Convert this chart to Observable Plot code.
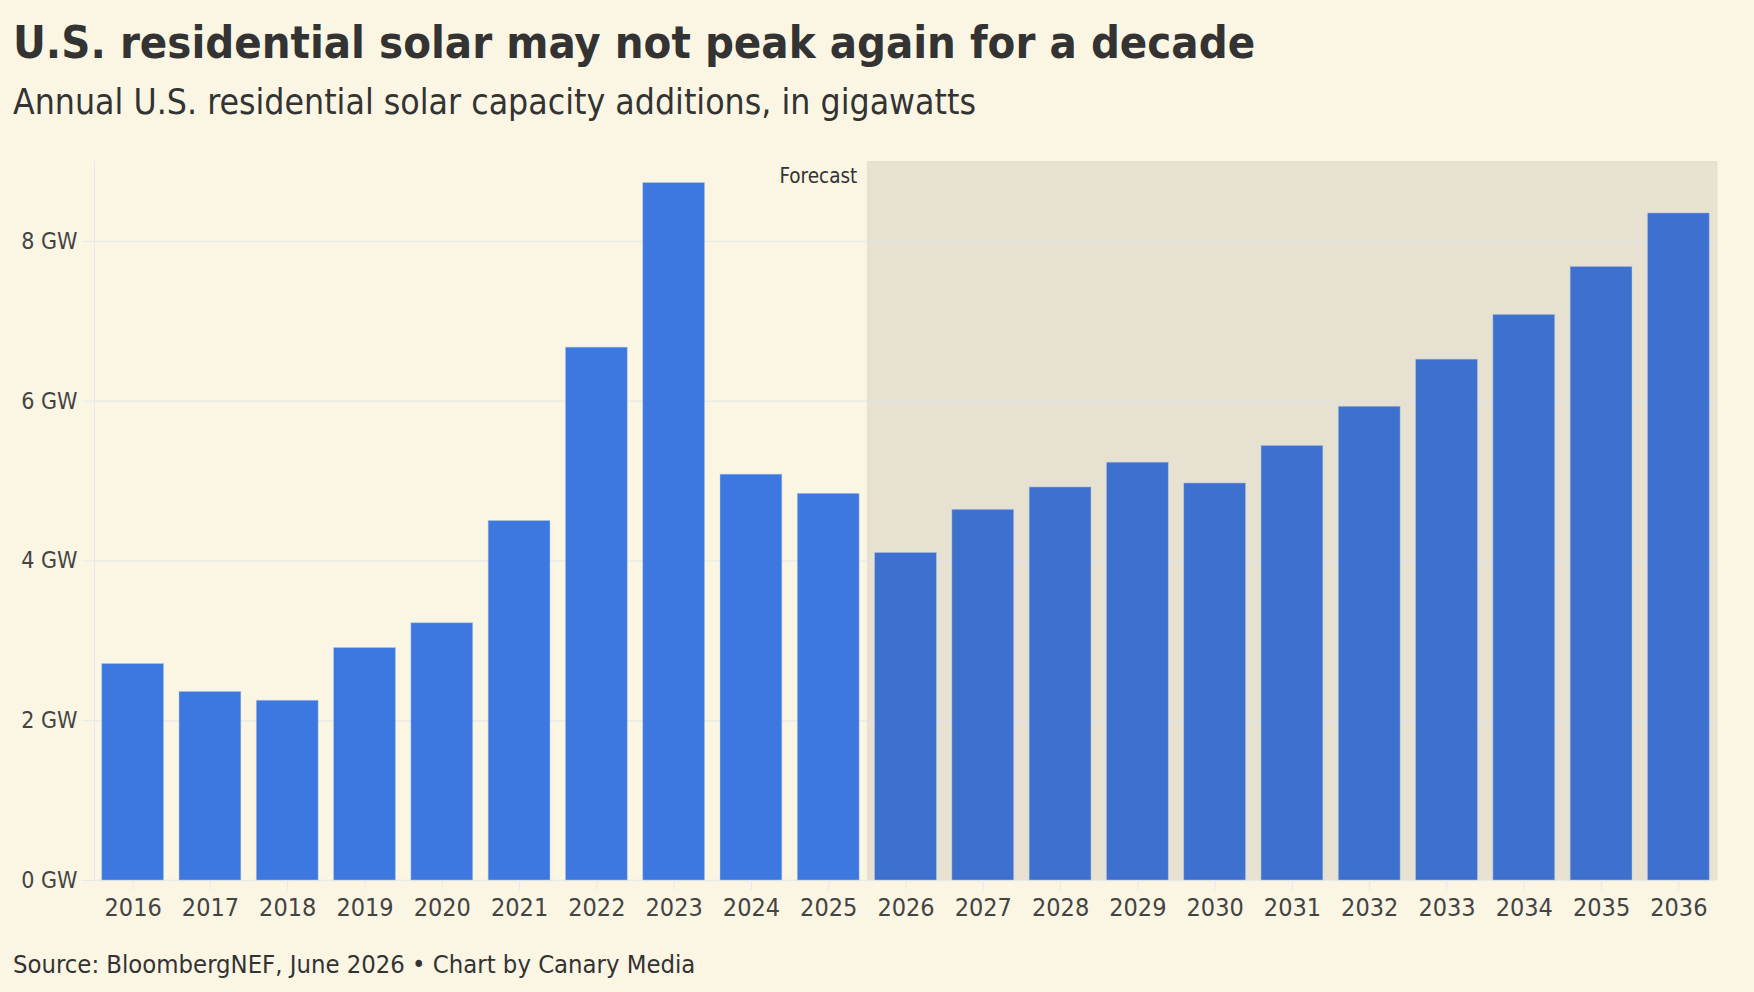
<!DOCTYPE html>
<html>
<head>
<meta charset="utf-8">
<script src="https://cdn.jsdelivr.net/npm/d3@7"></script>
<script src="https://cdn.jsdelivr.net/npm/@observablehq/plot@0.6"></script>
<style>
  html, body { margin: 0; padding: 0; background: #fbf6e3; }
  body { width: 1754px; height: 992px; position: relative; overflow: hidden;
         font-family: "DejaVu Sans Condensed", "DejaVu Sans", sans-serif; font-stretch: semi-condensed; color: #333; }
  #title { position: absolute; left: 13px; top: 11px; font-size: 45px; font-weight: 700; white-space: nowrap; line-height: 64px; }
  #subtitle { position: absolute; left: 13px; top: 79px; font-size: 35.3px; font-weight: 400; white-space: nowrap; line-height: 46px; }
  #chart { position: absolute; left: 0; top: 140px; }
  #footer { position: absolute; left: 13px; top: 948px; font-size: 25.4px; white-space: nowrap; line-height: 32px; }
</style>
</head>
<body>
<div id="title">U.S. residential solar may not peak again for a decade</div>
<div id="subtitle">Annual U.S. residential solar capacity additions, in gigawatts</div>
<div id="chart"></div>
<div id="footer">Source: BloombergNEF, June 2026 • Chart by Canary Media</div>
<script>
const years = ["2016","2017","2018","2019","2020","2021","2022","2023","2024","2025","2026","2027","2028","2029","2030","2031","2032","2033","2034","2035","2036"];
const capacityGW = [2.71, 2.36, 2.25, 2.91, 3.22, 4.50, 6.67, 8.73, 5.08, 4.84, 4.10, 4.64, 4.92, 5.23, 4.97, 5.44, 5.93, 6.52, 7.08, 7.68, 8.35];
const forecastYears = ["2026","2027","2028","2029","2030","2031","2032","2033","2034","2035","2036"];
const yTicks = [0, 2, 4, 6, 8];
const forecastLabel = ["Forecast"];

const data = years.map((y, i) => ({year: y, value: capacityGW[i], forecast: forecastYears.includes(y)}));

const W = 1754, H = 790, mL = 94, mR = 37, mT = 21, mB = 50;
const step = (W - mL - mR) / (years.length);
const halfGap = step * 0.1;

const chart = Plot.plot({
  width: W, height: H,
  marginLeft: mL, marginRight: mR, marginTop: mT, marginBottom: mB,
  style: {background: "transparent", fontFamily: '"DejaVu Sans Condensed", "DejaVu Sans", sans-serif', fontStretch: "semi-condensed", fontSize: "25px", color: "#444"},
  x: {type: "band", domain: years, paddingInner: 0.2, paddingOuter: 0.1, round: false, label: null},
  y: {domain: [0, 9], label: null},
  marks: [
    Plot.barY(forecastYears, {x: d => d, y1: 0, y2: 9, fill: "#e7e1d2", insetLeft: -halfGap, insetRight: -halfGap - 0.6}),
    Plot.gridY(yTicks, {stroke: "#dfe2ea", strokeOpacity: 0.6, strokeWidth: 1.5}),
    Plot.frame({anchor: "left", stroke: "#e6e8ee"}),
    Plot.barY(data, {x: "year", y: "value", fill: d => d.forecast ? "#3d70cf" : "#3d78e0", stroke: "#b8c6e0", strokeWidth: 0.8, strokeOpacity: 0.6}),
    Plot.axisY({ticks: yTicks, tickFormat: d => `${d} GW`, tickSize: 12, tickPadding: 5, stroke: "#e6e8ee", label: null, fontSize: 23}),
    Plot.axisX({tickSize: 10, tickPadding: 8, stroke: "#e6e8ee", label: null, fontSize: 25}),
    Plot.text(forecastLabel, {x: () => "2025", y: 9, text: d => d, textAnchor: "end", lineAnchor: "top", dx: step * 0.4 + halfGap - 10, dy: 7, fill: "#333", fontSize: 20.5})
  ]
});
document.getElementById("chart").appendChild(chart);
</script>
</body>
</html>
